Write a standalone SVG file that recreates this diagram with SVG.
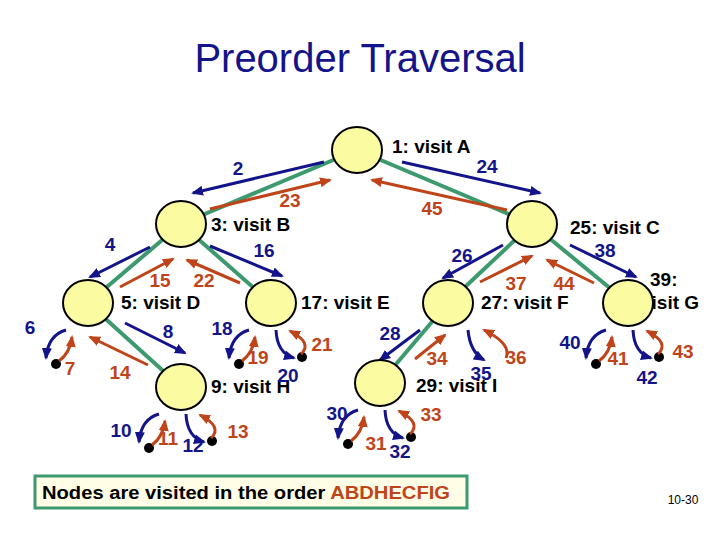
<svg xmlns="http://www.w3.org/2000/svg" xmlns:xlink="http://www.w3.org/1999/xlink" width="720" height="540" viewBox="0 0 720 540">
<style>
.t{font-family:"Liberation Sans",Arial,sans-serif;font-weight:bold;font-size:19px}
.v{fill:#000}
.b{fill:#14148a}
.r{fill:#c0441a}
.g{stroke:#3d9a6e;stroke-width:4;fill:none}
.ba{stroke:#14148a;stroke-width:3;fill:none;marker-end:url(#mb)}
.ra{stroke:#c0441a;stroke-width:3;fill:none;marker-end:url(#mr)}
.n{fill:#fbfba2;stroke:#000;stroke-width:2}
</style>
<defs>
<marker id="mb" markerUnits="userSpaceOnUse" markerWidth="12" markerHeight="12" refX="10" refY="5" orient="auto" viewBox="0 0 12 10"><path d="M0,0 L12,5 L0,10 z" fill="#14148a"/></marker>
<marker id="mr" markerUnits="userSpaceOnUse" markerWidth="12" markerHeight="12" refX="10" refY="5" orient="auto" viewBox="0 0 12 10"><path d="M0,0 L12,5 L0,10 z" fill="#c0441a"/></marker>
<g id="ln"><path class="ba" d="M-22,27 Q-40,32 -42,55"/><circle cx="-32" cy="61" r="5"/><path class="ra" d="M-29,58 Q-18,50 -16,34"/></g>
<g id="rn"><path class="ba" d="M5,27 Q6,50 23,55"/><circle cx="31" cy="54" r="5"/><path class="ra" d="M30,51 Q42,40 19,28"/></g>
</defs>
<rect width="720" height="540" fill="#fff"/>
<text x="360" y="72" text-anchor="middle" style="font-family:'Liberation Sans',Arial,sans-serif;font-size:40px;fill:#14148a">Preorder Traversal</text>
<text class="t v" x="392" y="153">1: visit A</text>
<text class="t v" x="211" y="231">3: visit B</text>
<text class="t v" x="570" y="234">25: visit C</text>
<text class="t v" x="121" y="309">5: visit D</text>
<text class="t v" x="301" y="309">17: visit E</text>
<text class="t v" x="481" y="309">27: visit F</text>
<text class="t v" x="650" y="286">39:</text>
<text class="t v" x="641" y="309">visit G</text>
<text class="t v" x="211" y="393">9: visit H</text>
<text class="t v" x="416" y="392">29: visit I</text>
<g id="connectors">
<line class="g" x1="357" y1="150" x2="181" y2="224"/>
<line class="g" x1="357" y1="150" x2="532" y2="224"/>
<line class="g" x1="181" y1="224" x2="88" y2="303"/>
<line class="g" x1="181" y1="224" x2="271" y2="303"/>
<line class="g" x1="88" y1="303" x2="181" y2="387"/>
<line class="g" x1="532" y1="224" x2="448" y2="303"/>
<line class="g" x1="532" y1="224" x2="628" y2="303"/>
<line class="g" x1="448" y1="303" x2="380" y2="383"/>
<path class="ba" d="M324,162 L193,193"/><path class="ra" d="M210,209 L330,180"/>
<path class="ba" d="M402,162 L540,193"/><path class="ra" d="M507,210 L372,180"/>
<path class="ba" d="M150,247 L90,277"/><path class="ra" d="M120,287 L173,259"/>
<path class="ba" d="M210,246 L282,276"/><path class="ra" d="M240,283 L187,260"/>
<path class="ba" d="M125,323 L185,353"/><path class="ra" d="M148,365 L90,337"/>
<path class="ba" d="M503,245 L443,278"/><path class="ra" d="M480,282 L532,256"/>
<path class="ba" d="M570,245 L636,277"/><path class="ra" d="M594,283 L547,260"/>
<path class="ba" d="M420,330 L380,360"/><path class="ra" d="M415,359 L445,335"/>
<use xlink:href="#ln" x="88" y="303"/>
<use xlink:href="#ln" x="271" y="303"/><use xlink:href="#rn" x="271" y="303"/>
<use xlink:href="#ln" x="181" y="387"/><use xlink:href="#rn" x="181" y="387"/>
<use xlink:href="#ln" x="380" y="383"/><use xlink:href="#rn" x="380" y="383"/>
<path class="ba" d="M468,330 Q470,352 484,360"/><path class="ra" d="M506,358 Q512,344 484,330"/>
<use xlink:href="#ln" x="628" y="303"/><use xlink:href="#rn" x="628" y="303"/>
</g>
<g id="A"><ellipse class="n" cx="357" cy="150" rx="25" ry="23"/></g>
<g id="B"><ellipse class="n" cx="181" cy="224" rx="25" ry="23"/></g>
<g id="C"><ellipse class="n" cx="532" cy="224" rx="25" ry="23"/></g>
<g id="D"><ellipse class="n" cx="88" cy="303" rx="25" ry="23"/></g>
<g id="E"><ellipse class="n" cx="271" cy="303" rx="25" ry="23"/></g>
<g id="F"><ellipse class="n" cx="448" cy="303" rx="25" ry="23"/></g>
<g id="G"><ellipse class="n" cx="628" cy="303" rx="25" ry="23"/></g>
<g id="H"><ellipse class="n" cx="181" cy="387" rx="25" ry="23"/></g>
<g id="I"><ellipse class="n" cx="380" cy="383" rx="25" ry="23"/></g>
<g text-anchor="middle">
<text class="t b" x="238" y="175">2</text>
<text class="t r" x="290" y="207">23</text>
<text class="t b" x="487" y="173">24</text>
<text class="t r" x="432" y="215">45</text>
<text class="t b" x="110" y="251">4</text>
<text class="t b" x="264" y="257">16</text>
<text class="t r" x="160" y="287">15</text>
<text class="t r" x="204" y="287">22</text>
<text class="t b" x="462" y="262">26</text>
<text class="t b" x="605" y="257">38</text>
<text class="t r" x="516" y="290">37</text>
<text class="t r" x="564" y="290">44</text>
<text class="t b" x="168" y="338">8</text>
<text class="t r" x="120" y="379">14</text>
<text class="t b" x="390" y="340">28</text>
<text class="t r" x="437" y="365">34</text>
<text class="t b" x="30" y="334">6</text>
<text class="t r" x="70" y="375">7</text>
<text class="t b" x="222" y="335">18</text>
<text class="t r" x="258" y="364">19</text>
<text class="t b" x="288" y="382">20</text>
<text class="t r" x="322" y="351">21</text>
<text class="t b" x="121" y="437">10</text>
<text class="t r" x="168" y="445">11</text>
<text class="t b" x="193" y="452">12</text>
<text class="t r" x="238" y="438">13</text>
<text class="t b" x="337" y="420">30</text>
<text class="t r" x="376" y="450">31</text>
<text class="t b" x="400" y="458">32</text>
<text class="t r" x="431" y="421">33</text>
<text class="t b" x="481" y="380">35</text>
<text class="t r" x="516" y="364">36</text>
<text class="t b" x="570" y="349">40</text>
<text class="t r" x="618" y="365">41</text>
<text class="t b" x="647" y="384">42</text>
<text class="t r" x="683" y="358">43</text>
</g>
<rect x="35" y="476" width="432" height="32" fill="#fffde6" stroke="#3d9a6e" stroke-width="3"/>
<text class="t" x="42" y="499" textLength="408" lengthAdjust="spacingAndGlyphs" style="font-size:18px"><tspan fill="#000">Nodes are visited in the order </tspan><tspan fill="#c0441a">ABDHECFIG</tspan></text>
<text x="683" y="504" text-anchor="middle" style="font-family:'Liberation Sans',Arial,sans-serif;font-size:12px">10-30</text>
</svg>
